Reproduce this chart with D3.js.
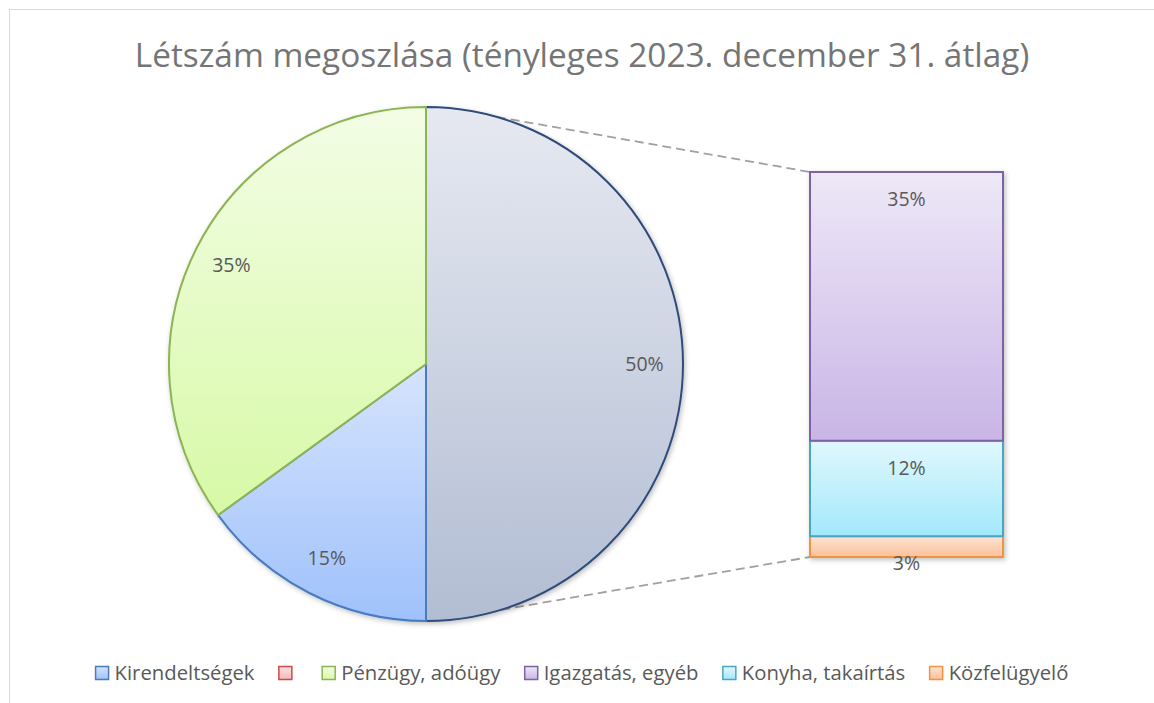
<!DOCTYPE html>
<html lang="hu">
<head>
  <meta charset="UTF-8">
  <title>Létszám megoszlása</title>
  <script src="https://d3js.org/d3.v7.min.js"></script>
  <style>
    body { margin: 0; background: #ffffff; overflow: hidden; }
    svg { display: block; font-family: "Open Sans", "Noto Sans", sans-serif; }
  </style>
</head>
<body>
  <svg width="1154" height="703"></svg>
  <script>
    // data
    const titleText = "Létszám megoszlása (tényleges 2023. december 31. átlag)";
    const pieNames = ["Kirendeltségek", "Pénzügy, adóügy"];
    const pieValues = [15, 35];
    const barNames = ["Igazgatás, egyéb", "Konyha, takaírtás", "Közfelügyelő"];
    const barValues = [34.9, 12.4, 2.7];
    const legendNames = ["Kirendeltségek", "", "Pénzügy, adóügy", "Igazgatás, egyéb", "Konyha, takaírtás", "Közfelügyelő"];

    // colours: [top, bottom, stroke]
    const colors = {
      "Egyéb": ["#e6e9f1", "#b2bdd3", "#2f4c7a"],
      "Kirendeltségek": ["#d6e4fd", "#9fc1fb", "#4a7bbf"],
      "": ["#fde0e0", "#f9b9b9", "#cc4a4a"],
      "Pénzügy, adóügy": ["#f3fde6", "#d7f9a6", "#8db453"],
      "Igazgatás, egyéb": ["#eee8f7", "#c9b5e6", "#7d62a6"],
      "Konyha, takaírtás": ["#e1f7fd", "#a2e9fb", "#4aa6c2"],
      "Közfelügyelő": ["#fee4d3", "#fbc099", "#f39341"]
    };

    const svg = d3.select("svg");
    const defs = svg.append("defs");

    Object.entries(colors).forEach(([name, c], i) => {
      const g = defs.append("linearGradient")
        .attr("id", "grad" + i)
        .attr("x1", 0).attr("y1", 0).attr("x2", 0).attr("y2", 1);
      g.append("stop").attr("offset", "0%").attr("stop-color", c[0]);
      g.append("stop").attr("offset", "100%").attr("stop-color", c[1]);
      c.grad = "url(#grad" + i + ")";
    });

    const shadow = defs.append("filter").attr("id", "shadow")
      .attr("x", "-10%").attr("y", "-10%").attr("width", "130%").attr("height", "130%");
    shadow.append("feDropShadow")
      .attr("dx", 1.5).attr("dy", 2).attr("stdDeviation", 2.5)
      .attr("flood-color", "#000").attr("flood-opacity", 0.25);

    // chart border (cropped on the right and bottom)
    svg.append("rect")
      .attr("x", 9.5).attr("y", 9.5)
      .attr("width", 1300).attr("height", 800)
      .attr("fill", "none").attr("stroke", "#d9d9d9");

    // title
    const title = svg.append("text")
      .attr("x", 582).attr("y", 67)
      .attr("text-anchor", "middle")
      .attr("fill", "#757575")
      .attr("font-size", 30)
      .text(titleText);
    const tw = title.node().getComputedTextLength();
    title.attr("font-size", 30 * 895 / tw);

    // pie
    const cx = 426, cy = 364, r = 257;
    const otherTotal = d3.sum(barValues);
    const pieData = [{ name: "Egyéb", value: otherTotal }]
      .concat(pieNames.map((n, i) => ({ name: n, value: pieValues[i] })));

    const pie = d3.pie().sort(null).value(d => d.value);
    const arcs = pie(pieData);
    const arc = d3.arc().innerRadius(0).outerRadius(r);
    const labelArc = d3.arc().innerRadius(r * 0.85).outerRadius(r * 0.85);

    // bar (stacked, bottom up)
    const barX = 810, barW = 193;
    const y = d3.scaleLinear().domain([0, otherTotal]).range([557, 172]);
    const stackOrder = barNames.map((n, i) => ({ name: n, value: barValues[i] })).reverse();
    let acc = 0;
    stackOrder.forEach(d => { d.y0 = acc; acc += d.value; d.y1 = acc; });

    // connector lines
    const conn = svg.append("g")
      .attr("stroke", "#a0a0a0").attr("stroke-width", 1.8)
      .attr("stroke-dasharray", "9,5").attr("fill", "none");
    const a1 = 16 * Math.PI / 180, a2 = 163 * Math.PI / 180;
    conn.append("line")
      .attr("x1", cx + r * Math.sin(a1)).attr("y1", cy - r * Math.cos(a1))
      .attr("x2", barX).attr("y2", y(otherTotal));
    conn.append("line")
      .attr("x1", cx + r * Math.sin(a2)).attr("y1", cy - r * Math.cos(a2))
      .attr("x2", barX).attr("y2", y(0));

    const pieG = svg.append("g")
      .attr("transform", `translate(${cx},${cy})`)
      .attr("filter", "url(#shadow)");
    pieG.selectAll("path")
      .data(arcs)
      .join("path")
      .attr("d", arc)
      .attr("fill", d => colors[d.data.name].grad)
      .attr("stroke", d => colors[d.data.name][2])
      .attr("stroke-width", 2)
      .attr("stroke-linejoin", "round");

    svg.append("g")
      .attr("transform", `translate(${cx},${cy})`)
      .selectAll("text")
      .data(arcs)
      .join("text")
      .attr("transform", d => `translate(${labelArc.centroid(d)})`)
      .attr("text-anchor", "middle")
      .attr("dy", "0.35em")
      .attr("fill", "#595959")
      .attr("font-size", 19.5)
      .text(d => Math.round(d.data.value) + "%");

    const barG = svg.append("g").attr("filter", "url(#shadow)");
    barG.selectAll("rect")
      .data(stackOrder)
      .join("rect")
      .attr("x", barX)
      .attr("y", d => y(d.y1))
      .attr("width", barW)
      .attr("height", d => y(d.y0) - y(d.y1))
      .attr("fill", d => colors[d.name].grad)
      .attr("stroke", d => colors[d.name][2])
      .attr("stroke-width", 2);

    svg.append("g")
      .selectAll("text")
      .data(stackOrder)
      .join("text")
      .attr("x", barX + barW / 2)
      .attr("y", d => y(d.y1) + 27)
      .attr("text-anchor", "middle")
      .attr("dy", "0.35em")
      .attr("fill", "#595959")
      .attr("font-size", 19.5)
      .text(d => Math.round(d.value) + "%");

    // legend, fitted to the reference width
    const legend = svg.append("g");
    const sq = 13, legendWidth = 981, legendY = 673;
    const items = legend.selectAll("g")
      .data(legendNames)
      .join("g");
    items.append("rect")
      .attr("width", sq).attr("height", sq)
      .attr("y", -sq / 2)
      .attr("fill", d => colors[d].grad)
      .attr("stroke", d => colors[d][2])
      .attr("stroke-width", 1.5);
    const legText = items.append("text")
      .attr("x", sq + 6)
      .attr("dy", "0.35em")
      .attr("fill", "#595959")
      .text(d => d);

    function layoutLegend(fontSize) {
      legText.attr("font-size", fontSize);
      const itemGap = fontSize * 1.2;
      let lx = 0;
      const offsets = [];
      legText.each(function () {
        offsets.push(lx);
        lx += sq + 6 + this.getComputedTextLength() + itemGap;
      });
      return { offsets, total: lx - itemGap };
    }
    let lay = layoutLegend(19);
    lay = layoutLegend(19 * legendWidth / lay.total);
    const startX = 582 - lay.total / 2;
    items.attr("transform", (d, i) => `translate(${startX + lay.offsets[i]},${legendY})`);
  </script>
</body>
</html>
